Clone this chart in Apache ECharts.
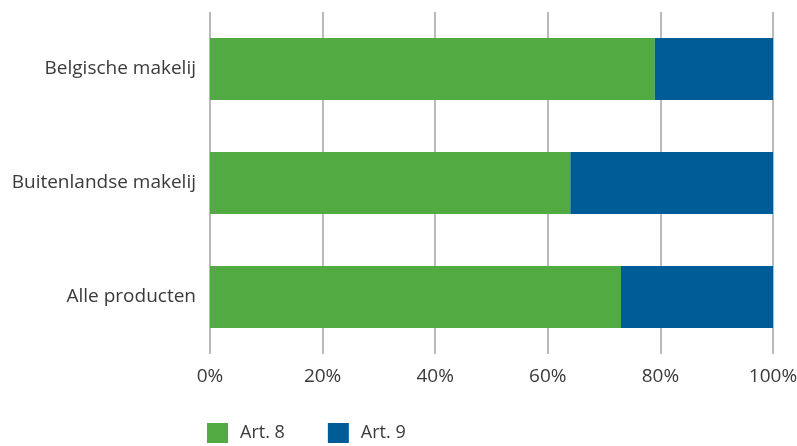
<!DOCTYPE html>
<html>
<head>
<meta charset="utf-8">
<script src="https://cdn.jsdelivr.net/npm/echarts@6/dist/echarts.min.js"></script>
<style>
  html, body { margin: 0; padding: 0; background: #ffffff; }
  #chart { width: 797px; height: 446px; }
</style>
</head>
<body>
<div id="chart"></div>
<script>
// Share of products per article, by origin (percent)
const categories = ['Belgische makelij', 'Buitenlandse makelij', 'Alle producten'];
const art8 = [79, 64, 73];
const art9 = [21, 36, 27];
const seriesNames = ['Art. 8', 'Art. 9'];
const xTicks = [0, 20, 40, 60, 80, 100];

const textColor = '#3a3a3a';
const fontFamily = '"Open Sans", "Noto Sans", sans-serif';

const chart = echarts.init(document.getElementById('chart'));
chart.setOption({
  animation: false,
  grid: { left: 210, width: 563, top: 12, height: 342, containLabel: false, outerBoundsMode: 'none' },
  legend: {
    left: 207,
    top: 423,
    padding: 0,
    itemWidth: 21,
    itemHeight: 20,
    itemGap: 43,
    icon: 'rect',
    textStyle: { color: textColor, fontSize: 18, fontFamily: fontFamily, padding: [0, 0, 0, 7] },
    data: seriesNames
  },
  xAxis: {
    type: 'value',
    min: xTicks[0],
    max: xTicks[xTicks.length - 1],
    interval: 20,
    axisLine: { show: false },
    axisTick: { show: false },
    splitLine: { show: true, lineStyle: { color: '#a3a3a3', width: 1.5 } },
    axisLabel: {
      color: textColor,
      fontSize: 19,
      fontFamily: fontFamily,
      margin: 13,
      formatter: v => v + '%'
    }
  },
  yAxis: {
    type: 'category',
    inverse: true,
    data: categories,
    axisLine: { show: false },
    axisTick: { show: false },
    axisLabel: { color: textColor, fontSize: 19, fontFamily: fontFamily, margin: 14 }
  },
  series: [
    {
      name: seriesNames[0],
      type: 'bar',
      stack: 'total',
      barWidth: 62,
      itemStyle: { color: '#52aa42' },
      data: art8
    },
    {
      name: seriesNames[1],
      type: 'bar',
      stack: 'total',
      barWidth: 62,
      itemStyle: { color: '#005c96' },
      data: art9
    }
  ]
});
</script>
</body>
</html>
